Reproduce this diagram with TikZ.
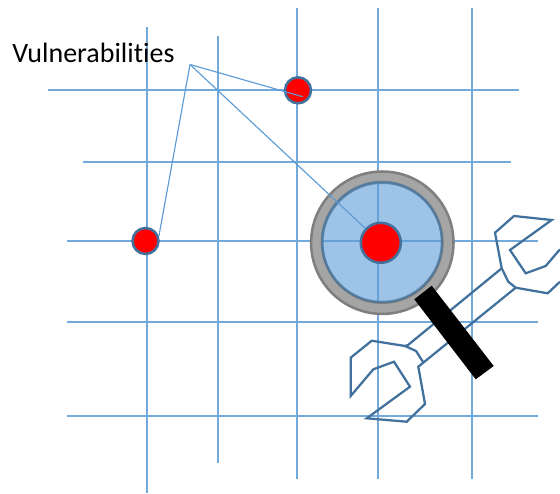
\documentclass[tikz,border=0pt]{standalone}
\usepackage{fontspec}
\setmainfont{Carlito}[RawFeature={-liga;-clig;-dlig}]
\usetikzlibrary{positioning}
\definecolor{gridblue}{HTML}{5B9BD5}
\definecolor{edgeblue}{HTML}{41719C}
\definecolor{ringgray}{HTML}{A5A5A5}
\definecolor{ringedge}{HTML}{7F7F7F}
\tikzset{
  gridline/.style={draw=gridblue!85, line width=0.9pt},
  leader/.style={draw=gridblue, line width=0.85pt},
  vuln/.style={
    circle, inner sep=0pt, minimum size=19.5pt,
    draw=edgeblue, line width=1.9pt, fill=red
  },
  ring/.style={
    fill=ringgray, draw=ringedge, line width=1.9pt, even odd rule
  },
  lens/.style={
    circle, inner sep=0pt, minimum size=90pt,
    draw=edgeblue, draw opacity=0.6, line width=1.9pt,
    fill=gridblue, fill opacity=0.6
  },
  wrench/.style={draw=edgeblue, line width=1.7pt, line join=miter},
  label/.style={font=\fontsize{21}{24}\selectfont, text=black, inner sep=0pt, anchor=base west}
}
\begin{document}
\begin{tikzpicture}[x=0.75pt, y=-0.75pt]

  \useasboundingbox (0,0) rectangle (560,493);

  % Grid
  \draw[gridline] (48,90) -- (519,90);
  \draw[gridline] (83,162) -- (511,162);
  \draw[gridline] (67,241) -- (538,241);
  \draw[gridline] (67,322) -- (538,322);
  \draw[gridline] (67,416) -- (538,416);
  \draw[gridline] (147,27) -- (147,493);
  \draw[gridline] (218,36) -- (218,463);
  \draw[gridline] (297,8) -- (297,479);
  \draw[gridline] (378,8) -- (378,479);
  \draw[gridline] (472,8) -- (472,479);

  % Wrench
  \draw[wrench] (560,249.3) -- (545.7,266) -- (525.7,273.3) -- (510,250)
    -- (551.7,220) -- (514,216) -- (495,232.7) -- (501.7,268.3)
    -- (408,345) -- (405,346) -- (371.7,340.7) -- (350.7,357.7)
    -- (350.7,396) -- (373.3,369.3) -- (394,361.7) -- (410,386.7)
    -- (366.7,418.3) -- (406.7,421.7) -- (425,404) -- (418.3,366.7)
    -- (515.7,287.7) -- (547.7,293.3) -- (560,281.7);
  \draw[wrench] (501.7,268.3) -- (508.3,281.7) -- (515.7,287.7);
  \draw[wrench] (405,346) -- (416,351) -- (423.3,362.3);

  % Magnifier
  \coordinate (glass) at (382.3,242.7);
  \draw[ring] (glass) circle (71.2) (glass) circle (60);
  \node[lens] (lensC) at (382,242) {};
  \fill[black] (431.7,285.7) -- (493.7,366) -- (475.7,379.3) -- (414.3,299.3) -- cycle;

  % Vulnerabilities
  \node[vuln] (dotA) at (298,90.3) {};
  \node[vuln] (dotB) at (145.5,241) {};
  \node[vuln, minimum size=30pt] (dotC) at (380.8,242.8) {};

  \node[label] (title) at (12,62.5) {Vulnerabilities};

  % Leaders
  \coordinate (hub) at (190,64.5);
  \coordinate (tipA) at (302.7,96.7);
  \draw[leader] (hub) -- (tipA);
  \draw[leader] (hub) -- (dotB.20);
  \draw[leader] (hub) -- (dotC);

\end{tikzpicture}
\end{document}
